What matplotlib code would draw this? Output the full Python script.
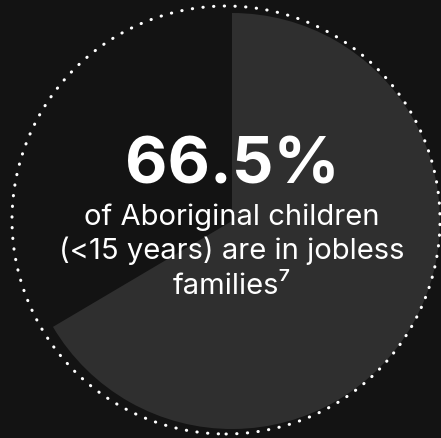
import matplotlib.pyplot as plt
from matplotlib.patches import Circle

# share of Aboriginal children (<15 years) in jobless families
labels = ['jobless families', 'other']
shares = [66.5, 33.5]

headline = '66.5%'
caption = ['of Aboriginal children', '(<15 years) are in jobless', 'families\u2077']

W, H = 441, 439
fig = plt.figure(figsize=(W / 100, H / 100), dpi=100)
fig.patch.set_facecolor('#131313')
ax = fig.add_axes([0, 0, 1, 1])
ax.set_facecolor('#131313')

cx, cy, r = 232, H - 222, 208

# the wedge starts at 12 o'clock and runs clockwise
ax.pie(shares, startangle=90, counterclock=False, center=(cx, cy), radius=r,
       colors=['#2f2f2f', 'none'], wedgeprops=dict(linewidth=0))

# dotted ring round the pie
ring = Circle((226, H - 221), 214, fill=False, edgecolor='white', linewidth=2.2,
              linestyle=(0, (0.1, 3.4)), capstyle='round')
ax.add_patch(ring)

font = ['Inter', 'DejaVu Sans']
ax.text(232, H - 166, headline, color='white', fontsize=47, fontweight='bold',
        family=font, ha='center', va='center')
ys = [H - 217, H - 251, H - 286]
for y, line in zip(ys, caption):
    ax.text(232, y, line, color='white', fontsize=21, family=font,
            ha='center', va='center')

ax.set_xlim(0, W)
ax.set_ylim(0, H)
ax.set_aspect('auto')
ax.axis('off')

fig.savefig('out.png', dpi=100, facecolor=fig.get_facecolor())
